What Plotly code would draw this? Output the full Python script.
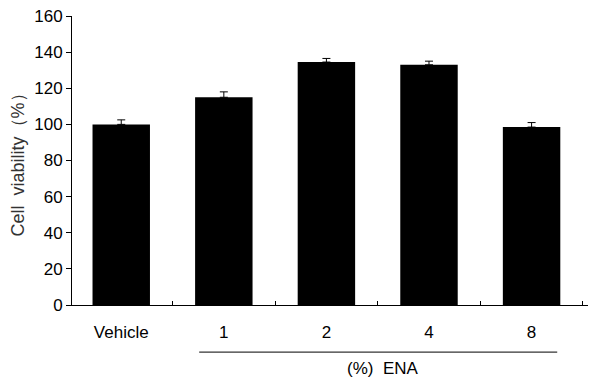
import plotly.graph_objects as go

categories = ["Vehicle", "1", "2", "4", "8"]
viability = [100, 115, 134.5, 133, 98.5]
errors = [2.5, 3, 2, 2, 2.5]
y_ticks = [0, 20, 40, 60, 80, 100, 120, 140, 160]

font_family = "Liberation Sans, Arial, sans-serif"

fig = go.Figure(
    go.Bar(
        x=categories,
        y=viability,
        marker=dict(color="black", line=dict(width=0)),
        width=0.56,
        error_y=dict(type="data", array=errors, arrayminus=[0] * len(errors),
                     symmetric=False, color="black", thickness=1, width=4),
    )
)

fig.update_layout(
    width=590, height=377,
    margin=dict(l=60, r=10, t=8, b=80),
    paper_bgcolor="white", plot_bgcolor="white",
    showlegend=False,
    font=dict(family=font_family, color="black", size=17),
)

fig.update_xaxes(
    type="category",
    range=[-0.48, 4.55],
    showline=True, linecolor="black", linewidth=1,
    ticks="inside", tickson="boundaries", ticklen=4, tickcolor="black",
    showgrid=False,
    tickfont=dict(size=17),
    ticklabelstandoff=12,
)
fig.update_yaxes(
    range=[0, 160],
    tickvals=y_ticks,
    showline=True, linecolor="black", linewidth=1,
    ticks="outside", ticklen=5, tickcolor="black",
    showgrid=False, zeroline=False,
    tickfont=dict(size=17),
    ticklabeloverflow="allow",
    automargin="left",
    title=dict(text="Cell  viability（%）", font=dict(size=18, color="#333333"), standoff=6),
)

fig.add_shape(type="line", xref="x", yref="paper",
              x0=0.76, x1=4.25, y0=-0.163, y1=-0.163,
              line=dict(color="black", width=1))
fig.add_annotation(text="(%)  ENA", xref="x", yref="paper",
                   x=2.55, y=-0.218, showarrow=False,
                   font=dict(size=17), yanchor="middle")

fig.write_html("out.html")
